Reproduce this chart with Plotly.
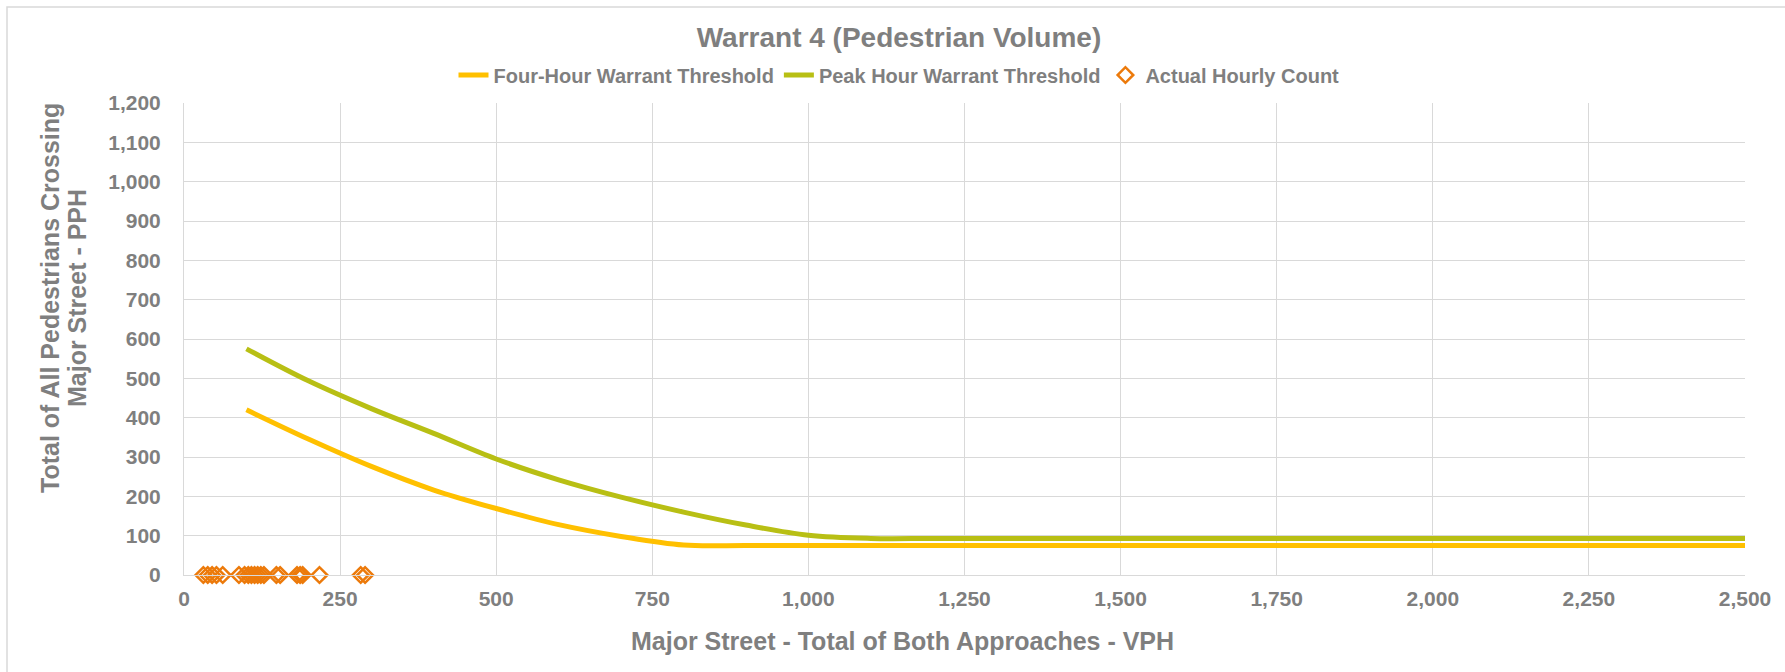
import plotly.graph_objects as go

# Major-street volume (VPH) at which the threshold curves are tabulated
vph_curve = [100, 200, 300, 400, 500, 600, 700, 800, 900, 1000, 1100, 1200, 1300,
             1400, 1500, 1600, 1700, 1800, 1900, 2000, 2100, 2200, 2300, 2400, 2500]

# Four-hour warrant threshold (PPH)
four_hour_pph = [420, 345, 276, 216, 169, 128, 98, 76, 75, 75, 75, 75, 75,
                 75, 75, 75, 75, 75, 75, 75, 75, 75, 75, 75, 75]

# Peak-hour warrant threshold (PPH)
peak_hour_pph = [575, 493, 423, 360, 295, 242, 198, 160, 127, 101, 93, 93, 93,
                 93, 93, 93, 93, 93, 93, 93, 93, 93, 93, 93, 93]

# Actual hourly counts: major-street VPH and pedestrians crossing (PPH)
count_vph = [31, 38, 45, 52, 62, 88, 97, 103, 108, 113, 118, 123, 128,
             148, 154, 181, 186, 190, 217, 283, 290]
count_pph = [0, 0, 0, 0, 0, 0, 0, 0, 0, 0, 0, 0, 0,
             0, 0, 0, 0, 0, 0, 0, 0]

x_ticks = [0, 250, 500, 750, 1000, 1250, 1500, 1750, 2000, 2250, 2500]
y_ticks = [0, 100, 200, 300, 400, 500, 600, 700, 800, 900, 1000, 1100, 1200]

FONT = "Liberation Sans, Arial, sans-serif"
GRAY = "#7F7F7F"
GRID = "#D9D9D9"

W, H = 1785, 672
L, R, T, B = 184, 40, 103, 97
PW, PH = W - L - R, H - T - B


def px_x(px):
    return (px - L) / PW


def px_y(py):
    return (H - B - py) / PH


fig = go.Figure()

fig.add_trace(go.Scatter(
    x=vph_curve, y=four_hour_pph, mode="lines",
    name="Four-Hour Warrant Threshold",
    line=dict(color="#FFC000", width=5, shape="spline", smoothing=1),
))
fig.add_trace(go.Scatter(
    x=vph_curve, y=peak_hour_pph, mode="lines",
    name="Peak Hour Warrant Threshold",
    line=dict(color="#B8BF14", width=5, shape="spline", smoothing=1),
))
fig.add_trace(go.Scatter(
    x=count_vph, y=count_pph, mode="markers",
    name="Actual Hourly Count",
    marker=dict(symbol="diamond-open", size=12, color="#EC7A0B",
                line=dict(width=2.5, color="#EC7A0B")),
    cliponaxis=False,
))

fig.update_layout(
    width=W, height=H,
    margin=dict(l=L, r=R, t=T, b=B),
    paper_bgcolor="white", plot_bgcolor="white",
    font=dict(family=FONT, color=GRAY, weight="bold"),
    title=dict(text="Warrant 4 (Pedestrian Volume)",
               font=dict(family=FONT, size=28, color=GRAY, weight="bold"),
               xref="paper", x=px_x(899), xanchor="center",
               y=1 - 37 / H, yanchor="middle", yref="container"),
    legend=dict(orientation="h", x=px_x(899), xanchor="center",
                y=px_y(75), yanchor="middle",
                font=dict(family=FONT, size=20, color=GRAY, weight="bold"),
                bgcolor="rgba(0,0,0,0)", itemwidth=30),
    xaxis=dict(range=[0, 2500], tickvals=x_ticks, tickformat=",",
               showgrid=True, gridcolor=GRID, gridwidth=1,
               zeroline=False, showline=True, linecolor=GRID, linewidth=1,
               ticks="", ticklabelstandoff=5,
               tickfont=dict(family=FONT, size=21, color=GRAY, weight="bold")),
    yaxis=dict(range=[0, 1200], tickvals=y_ticks, tickformat=",",
               showgrid=True, gridcolor=GRID, gridwidth=1,
               zeroline=False, showline=True, linecolor=GRID, linewidth=1,
               ticks="", ticklabelstandoff=18,
               tickfont=dict(family=FONT, size=21, color=GRAY, weight="bold")),
    annotations=[
        dict(text="Major Street - Total of Both Approaches - VPH",
             xref="paper", yref="paper", x=px_x(902), y=px_y(641),
             xanchor="center", yanchor="middle", showarrow=False,
             font=dict(family=FONT, size=25, color=GRAY, weight="bold")),
        dict(text="Total of All Pedestrians Crossing",
             xref="paper", yref="paper", x=px_x(50), y=px_y(298),
             xanchor="center", yanchor="middle", showarrow=False, textangle=-90,
             font=dict(family=FONT, size=25, color=GRAY, weight="bold")),
        dict(text="Major Street - PPH",
             xref="paper", yref="paper", x=px_x(77), y=px_y(298),
             xanchor="center", yanchor="middle", showarrow=False, textangle=-90,
             font=dict(family=FONT, size=25, color=GRAY, weight="bold")),
    ],
    shapes=[
        dict(type="rect", xref="paper", yref="paper", layer="below",
             x0=px_x(7), x1=px_x(W + 20), y0=px_y(H + 20), y1=px_y(7),
             line=dict(color=GRID, width=1.5), fillcolor="rgba(0,0,0,0)"),
    ],
)

fig.write_html("out.html")
